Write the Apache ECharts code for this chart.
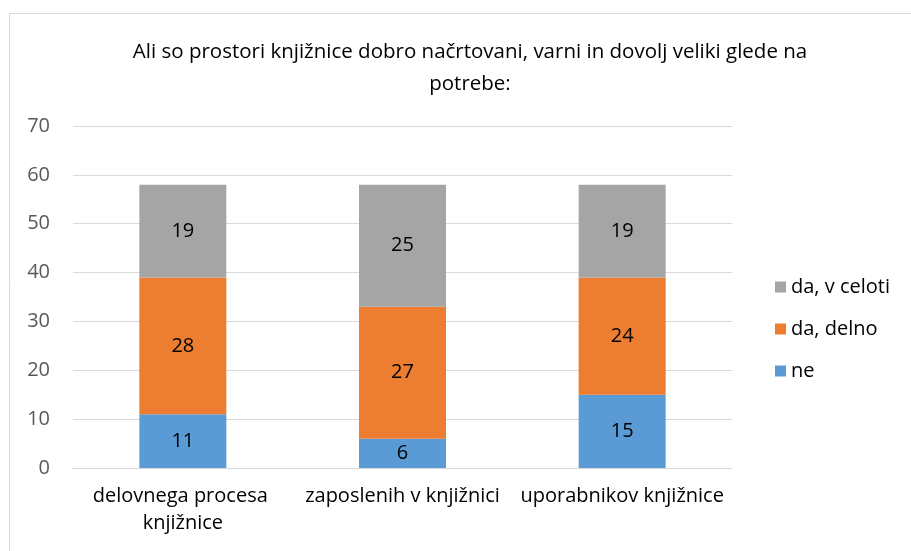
<!DOCTYPE html>
<html>
<head>
<meta charset="utf-8">
<script src="https://cdn.jsdelivr.net/npm/echarts@6.0.0/dist/echarts.min.js"></script>
<style>
  html, body { margin: 0; padding: 0; background: #fff; }
  #chart { width: 911px; height: 551px; }
</style>
</head>
<body>
<div id="chart"></div>
<script>
const titleText = 'Ali so prostori knjižnice dobro načrtovani, varni in dovolj veliki glede na\npotrebe:';
const categories = ['delovnega procesa knjižnice', 'zaposlenih v knjižnici', 'uporabnikov knjižnice'];
const seriesNames = ['ne', 'da, delno', 'da, v celoti'];
const valuesNe = [11, 6, 15];
const valuesDelno = [28, 27, 24];
const valuesCeloti = [19, 25, 19];
const colors = ['#5B9BD5', '#ED7D31', '#A5A5A5'];

const font = 'Open Sans';
const fs = 20;
const chart = echarts.init(document.getElementById('chart'));

const mkSeries = (name, data, color) => ({
    name: name,
    type: 'bar',
    stack: 'total',
    data: data,
    barWidth: 87,
    itemStyle: { color: color },
    label: {
        show: true,
        position: 'inside',
        color: '#000',
        fontFamily: font,
        fontSize: fs
    }
});

chart.setOption({
    animation: false,
    color: colors,
    title: {
        text: titleText,
        left: 465,
        top: 31,
        textAlign: 'center',
        textStyle: {
            fontFamily: font,
            fontSize: fs + 0.5,
            fontWeight: 'normal',
            color: '#000',
            lineHeight: 32,
            align: 'center'
        }
    },
    graphic: [{
        type: 'rect',
        shape: { x: 9.5, y: 13.5, width: 1000, height: 1000 },
        style: { fill: 'none', stroke: '#D9D9D9', lineWidth: 1 },
        silent: true
    }],
    legend: {
        orient: 'vertical',
        left: 770,
        top: 272,
        itemWidth: 11,
        itemHeight: 11,
        itemGap: 22,
        icon: 'rect',
        data: ['da, v celoti', 'da, delno', 'ne'],
        textStyle: { fontFamily: font, fontSize: fs, color: '#000' }
    },
    grid: { left: 73, right: 179, top: 126, bottom: 83, containLabel: false },
    xAxis: {
        type: 'category',
        data: categories,
        axisLine: { lineStyle: { color: '#D9D9D9' } },
        axisTick: { show: false },
        axisLabel: {
            fontFamily: font,
            fontSize: fs,
            color: '#000',
            margin: 15,
            width: 216,
            overflow: 'break',
            lineHeight: 27,
            interval: 0
        }
    },
    yAxis: {
        type: 'value',
        min: 0,
        max: 70,
        interval: 10,
        axisLine: { show: false },
        axisTick: { show: false },
        splitLine: { lineStyle: { color: '#D9D9D9' } },
        axisLabel: {
            fontFamily: font,
            fontSize: fs,
            color: '#595959',
            margin: 23
        }
    },
    series: [
        mkSeries(seriesNames[0], valuesNe, colors[0]),
        mkSeries(seriesNames[1], valuesDelno, colors[1]),
        mkSeries(seriesNames[2], valuesCeloti, colors[2])
    ]
});
</script>
</body>
</html>
